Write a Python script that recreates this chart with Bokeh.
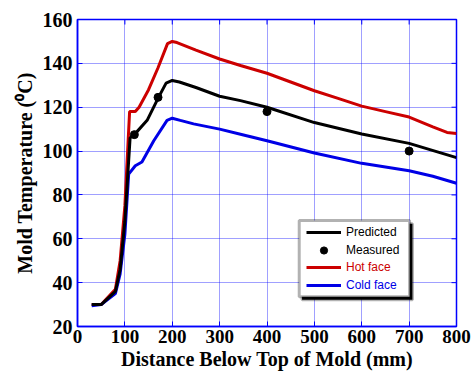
from bokeh.plotting import figure
from bokeh.models import (Legend, LegendItem, BoxAnnotation, Range1d, FixedTicker)
from bokeh.embed import file_html
from bokeh.resources import INLINE

# ---- data ----
pred_x = [30, 50, 80, 90, 100, 111, 120, 147, 171, 187, 200, 215, 250, 300, 344, 400, 500, 600, 700, 800]
pred_y = [30, 30, 36, 46, 68, 106, 107.5, 114, 124.5, 131, 132.2, 131.5, 129, 125, 123, 120, 113, 107.8, 103.5, 97]

hot_x = [30, 50, 80, 90, 100, 110, 122, 130, 150, 170, 190, 200, 210, 250, 300, 344, 400, 450, 500, 550, 600, 650, 700, 750, 780, 800]
hot_y = [30, 30, 37, 50, 75, 118, 118, 120, 128, 138, 149, 150, 149.5, 146, 142, 139, 135.5, 131.5, 127.5, 124, 120.5, 118, 115.5, 111, 108.5, 108]

cold_x = [30, 50, 80, 90, 100, 108, 122, 136, 161, 189, 200, 217, 245, 300, 344, 400, 500, 600, 700, 750, 800]
cold_y = [29.5, 30, 35, 44, 62, 89.5, 93.3, 95, 104.7, 114, 115, 114, 112.4, 110, 107.7, 104.7, 99.1, 94.4, 91, 88.5, 85.3]

meas_x = [120, 170, 400, 700]
meas_y = [107.5, 124.5, 118, 100]

x_ticks = [0, 100, 200, 300, 400, 500, 600, 700, 800]
y_ticks = [20, 40, 60, 80, 100, 120, 140, 160]

X_MIN, X_MAX = 0, 800
Y_MIN, Y_MAX = 20, 160

BLUE_AX = "#0000ff"
RED = "#cc0000"
BLUE = "#0000e6"

p = figure(width=471, height=374, output_backend="svg", toolbar_location=None,
           x_range=Range1d(X_MIN, X_MAX), y_range=Range1d(Y_MIN, Y_MAX),
           min_border_left=77, min_border_right=15, min_border_top=19, min_border_bottom=48)

p.outline_line_color = BLUE_AX
p.outline_line_width = 1.5

for ax in (p.xaxis[0], p.yaxis[0]):
    ax.axis_line_color = BLUE_AX
    ax.axis_line_width = 1.5
    ax.major_tick_line_color = BLUE_AX
    ax.major_tick_in = 5
    ax.major_tick_out = 0
    ax.minor_tick_line_color = None
    ax.major_label_text_font = "Liberation Serif"
    ax.major_label_text_font_style = "bold"
    ax.major_label_text_color = "black"
    ax.axis_label_text_font = "Liberation Serif"
    ax.axis_label_text_font_style = "bold"
    ax.axis_label_text_font_size = "20px"
    ax.axis_label_text_color = "black"

p.xaxis[0].major_label_text_font_size = "19px"
p.yaxis[0].major_label_text_font_size = "20px"
p.xaxis[0].major_label_standoff = 3
p.xaxis[0].axis_label_standoff = 2
p.xaxis[0].ticker = FixedTicker(ticks=x_ticks)
p.yaxis[0].ticker = FixedTicker(ticks=y_ticks)
p.xaxis[0].axis_label = "Distance Below Top of Mold (mm)"
p.yaxis[0].axis_label = "Mold Temperature (\u2070C)"
p.yaxis[0].major_label_standoff = 5
p.yaxis[0].axis_label_standoff = 4

p.xgrid.ticker = FixedTicker(ticks=x_ticks)
p.ygrid.ticker = FixedTicker(ticks=y_ticks)
for g in (p.xgrid[0], p.ygrid[0]):
    g.grid_line_color = BLUE_AX
    g.grid_line_alpha = 0.75
    g.grid_line_dash = "1 1"
    g.grid_line_width = 1

# inward ticks on the top and right edges of the frame
tick_len_y = (Y_MAX - Y_MIN) * 5 / 307
tick_len_x = (X_MAX - X_MIN) * 5 / 379
p.segment(x0=x_ticks, y0=[Y_MAX] * len(x_ticks), x1=x_ticks, y1=[Y_MAX - tick_len_y] * len(x_ticks),
          line_color=BLUE_AX, line_width=1)
p.segment(x0=[X_MAX] * len(y_ticks), y0=y_ticks, x1=[X_MAX - tick_len_x] * len(y_ticks), y1=y_ticks,
          line_color=BLUE_AX, line_width=1)

r_hot = p.line(hot_x, hot_y, line_color=RED, line_width=3)
r_cold = p.line(cold_x, cold_y, line_color=BLUE, line_width=3)
r_pred = p.line(pred_x, pred_y, line_color="black", line_width=3)
r_meas = p.scatter(meas_x, meas_y, size=8, color="black")

# legend frame (with small shadow)
p.add_layout(BoxAnnotation(left=474, right=707, top=66.9, bottom=32.2,
                           fill_color="black", fill_alpha=1, line_color="black", line_width=3,
                           level="overlay"))
p.add_layout(BoxAnnotation(left=468, right=701, top=68.3, bottom=33.6,
                           fill_color="white", fill_alpha=1, line_color="black", line_width=3,
                           level="overlay"))

def mk_legend(items, color, loc):
    return Legend(items=items, location=loc, padding=0, margin=0, spacing=0,
                  label_height=18, glyph_height=18, glyph_width=35, label_standoff=5,
                  label_text_font="Liberation Sans", label_text_font_size="12px",
                  label_text_color=color, border_line_alpha=0, background_fill_alpha=0)

p.add_layout(mk_legend([LegendItem(label="Predicted", renderers=[r_pred]),
                        LegendItem(label="Measured", renderers=[r_meas])], "black", (229, 67)))
p.add_layout(mk_legend([LegendItem(label="Hot face", renderers=[r_hot])], RED, (229, 50)))
p.add_layout(mk_legend([LegendItem(label="Cold face", renderers=[r_cold])], BLUE, (229, 32)))

open("out.html", "w").write(file_html(p, INLINE))
